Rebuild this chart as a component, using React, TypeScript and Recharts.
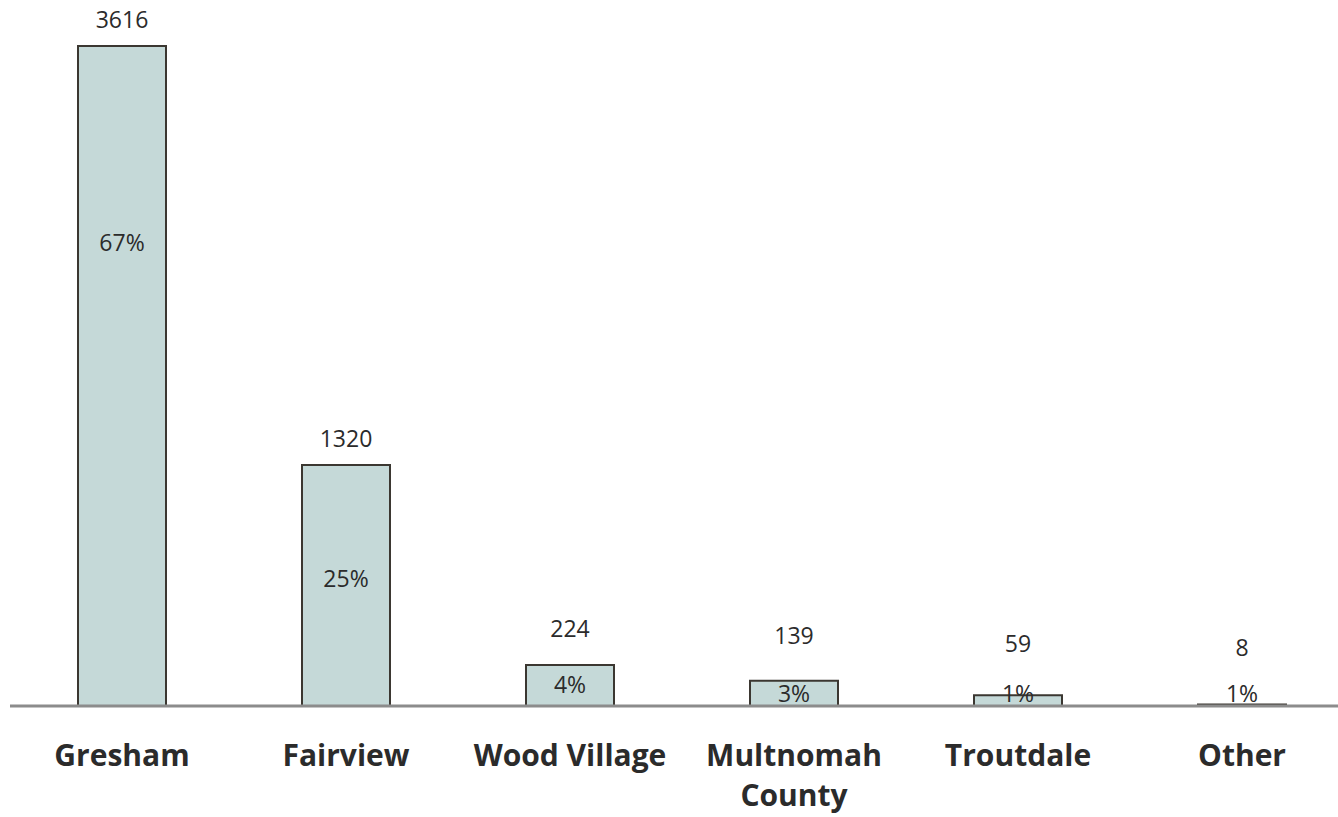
import React from 'react';
import { BarChart, Bar, XAxis, YAxis, LabelList } from 'recharts';

const categories = ['Gresham', 'Fairview', 'Wood Village', 'Multnomah County', 'Troutdale', 'Other'];
const counts = [3616, 1320, 224, 139, 59, 8];
const shares = ['67%', '25%', '4%', '3%', '1%', '1%'];

const data = categories.map((name, i) => ({ name, count: counts[i], share: shares[i] }));

const FONT = '"Open Sans", sans-serif';
const TEXT = '#2b2b2b';

// the long county name wraps onto two lines like the original
const wrapLabel = (name: string) => (name === 'Multnomah County' ? ['Multnomah', 'County'] : [name]);

const CategoryTick = (props: any) => {
  const { x, y, payload } = props;
  const lines = wrapLabel(payload.value);
  return (
    <g transform={`translate(${x},${y})`}>
      {lines.map((line, i) => (
        <text
          key={line}
          x={0}
          y={52 + i * 40}
          textAnchor="middle"
          fontFamily={FONT}
          fontWeight={700}
          fontSize={30}
          fill={TEXT}
        >
          {line}
        </text>
      ))}
    </g>
  );
};

const CountLabel = (props: any) => {
  const { x, y, width, height, value } = props;
  const offset = Math.max(27, 58 - height * 0.5);
  return (
    <text
      x={x + width / 2}
      y={y - offset}
      textAnchor="middle"
      dominantBaseline="central"
      fontFamily={FONT}
      fontSize={23}
      fill={TEXT}
    >
      {value}
    </text>
  );
};

const ShareLabel = (props: any) => {
  const { x, y, width, height, value } = props;
  const base = y + height;
  const cy = Math.min(y + Math.min(height * 0.47, 196), base - 13);
  return (
    <text
      x={x + width / 2}
      y={cy}
      textAnchor="middle"
      dominantBaseline="central"
      fontFamily={FONT}
      fontSize={23}
      fill={TEXT}
    >
      {value}
    </text>
  );
};

export default function App() {
  return (
    <div style={{ position: 'absolute', left: 0, top: 0, width: 1338, height: 817, overflow: 'hidden', background: '#fff' }}>
      <BarChart
        width={1354}
        height={817}
        data={data}
        margin={{ top: 46, right: 0, bottom: 0, left: 10 }}
        barSize={88}
      >
        <XAxis
          dataKey="name"
          axisLine={{ stroke: '#8c8c8c', strokeWidth: 3 }}
          tickLine={false}
          height={111}
          interval={0}
          tick={<CategoryTick />}
        />
        <YAxis hide domain={[0, 3616]} />
        <Bar dataKey="count" fill="#c5d9d8" stroke="#3b3731" strokeWidth={2} isAnimationActive={false}>
          <LabelList dataKey="count" content={<CountLabel />} />
          <LabelList dataKey="share" content={<ShareLabel />} />
        </Bar>
      </BarChart>
    </div>
  );
}
